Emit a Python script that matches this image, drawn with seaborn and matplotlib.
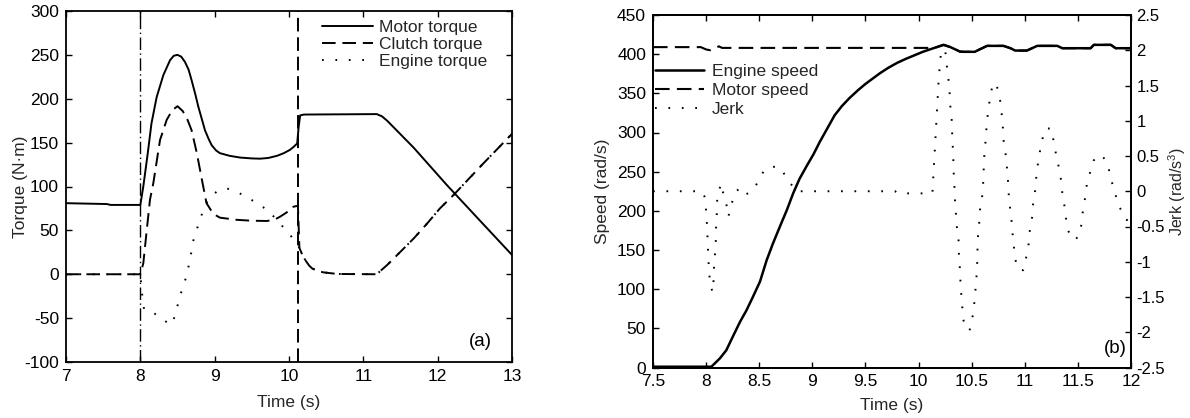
import numpy as np
import pandas as pd
import matplotlib
matplotlib.use("Agg")
import matplotlib.pyplot as plt
from matplotlib.ticker import FuncFormatter, MultipleLocator
import seaborn as sns

# ---------------- data: panel (a) torque ----------------
t_motor = [7.0, 7.55, 7.6, 8.0, 8.04, 8.1, 8.15, 8.22, 8.31, 8.4, 8.45, 8.5, 8.55, 8.6, 8.65,
           8.69, 8.74, 8.78, 8.83, 8.87, 8.92, 8.96, 9.02, 9.07, 9.2, 9.34, 9.5, 9.61, 9.72,
           9.84, 9.93, 10.01, 10.06, 10.11, 10.13, 10.15, 10.2, 11.18, 11.25, 11.32, 11.68,
           12.12, 12.57, 13.0]
motor_torque = [81, 80, 79, 79, 100, 138, 172, 202, 227, 244, 249, 250, 248, 242, 233,
                221, 205, 191, 176, 164, 154, 147, 141, 138, 135, 133, 132, 131.7, 132.5,
                135, 138, 141.6, 145, 149, 168, 181, 182, 182.5, 180, 175, 144,
                102, 61, 22]

t_clutch = [7.0, 8.0, 8.04, 8.086, 8.13, 8.175, 8.265, 8.355, 8.43, 8.5, 8.57, 8.63, 8.69,
            8.76, 8.83, 8.89, 8.98, 9.07, 9.3, 9.5, 9.7, 9.8, 9.88, 9.97, 10.06, 10.12,
            10.14, 10.18, 10.22, 10.27, 10.31, 10.38, 10.46, 10.6, 10.69, 11.18, 11.32,
            11.5, 11.68, 11.86, 12.03, 12.21, 12.6, 13.0]
clutch_torque = [0, 0, 12.5, 50, 85, 104, 153, 176, 187, 191.5, 186, 177, 164,
                 138, 107, 81, 69, 64.5, 62, 61, 60.7, 62, 65.6, 70.5, 77, 78,
                 30, 22, 16, 10, 6.7, 4, 2.2, 0.8, 0.3, 0, 10.5,
                 25.7, 41, 58, 75, 90, 125, 160]

t_engine = [7.0, 8.0, 8.01, 8.02, 8.05, 8.175, 8.29, 8.40, 8.467, 8.5, 8.53, 8.57, 8.61,
            8.64, 8.67, 8.71, 8.75, 8.79, 8.83, 8.875, 8.94, 9.04, 9.16, 9.29, 9.40, 9.51,
            9.62, 9.73, 9.84, 9.92, 10.0, 10.07, 10.12, 10.14, 10.18, 10.22, 10.27, 10.31,
            10.38, 10.46, 10.6, 10.69, 11.18, 11.32, 11.5, 11.68, 11.86, 12.03, 12.21,
            12.6, 13.0]
engine_torque = [0, 0, -10, -20, -40, -44, -50, -58, -48, -36, -26, -15, -5,
                 5.6, 17, 37.6, 48.5, 59, 69, 79, 88, 95, 98, 94, 89.6, 84,
                 78, 72.4, 61, 54, 47, 38, 33, 30, 22, 16, 10, 6.7,
                 4, 2.2, 0.8, 0.3, 0, 10.5, 25.7, 41, 58, 75, 90,
                 125, 160]

phase_times = [8.0, 10.12]

# ---------------- data: panel (b) speed & jerk ----------------
t_espeed = [7.5, 8.05, 8.13, 8.19, 8.25, 8.32, 8.38, 8.44, 8.507, 8.57, 8.63, 8.695, 8.76,
            8.82, 8.88, 8.95, 9.01, 9.07, 9.14, 9.21, 9.28, 9.35, 9.43, 9.5, 9.57, 9.64,
            9.72, 9.8, 9.88, 9.96, 10.04, 10.14, 10.236, 10.3, 10.39, 10.42, 10.53, 10.566,
            10.645, 10.8, 10.865, 10.91, 11.02, 11.117, 11.306, 11.353, 11.62, 11.65, 11.81,
            11.856, 12.0]
engine_speed = [1, 1, 11.7, 22, 39, 58.5, 73, 90, 109.6, 137, 158.6, 180, 201,
                222.5, 241, 258, 272, 288, 305, 322, 334, 344, 354, 362, 369, 376,
                383, 389, 394, 398.5, 403, 407.6, 411.9, 409, 403.3, 403, 403, 405.5,
                410.6, 410.6, 407.6, 404.6, 404.6, 410.6, 410.6, 407.6, 407.6, 411.9, 411.9,
                407.6, 407.6]

t_mspeed = [7.5, 7.95, 8.0, 8.04, 8.08, 8.12, 8.15, 8.2, 10.1, 10.14, 10.236, 10.3, 10.39,
            10.42, 10.53, 10.566, 10.645, 10.8, 10.865, 10.91, 11.02, 11.117, 11.306,
            11.353, 11.62, 11.65, 11.81, 11.856, 12.0]
motor_speed = [409, 409, 406, 405, 407, 410, 408, 408, 408, 407.6, 411.9, 409, 403.3,
               403, 403, 405.5, 410.6, 410.6, 407.6, 404.6, 404.6, 410.6, 410.6,
               407.6, 407.6, 411.9, 411.9, 407.6, 407.6]

t_jerk = [7.5, 7.96, 7.99, 8.004, 8.013, 8.02, 8.03, 8.04, 8.06, 8.07, 8.075, 8.09, 8.094,
          8.10, 8.105, 8.13, 8.14, 8.16, 8.186, 8.21, 8.23, 8.255, 8.28, 8.31, 8.356, 8.43,
          8.475, 8.51, 8.56, 8.65, 8.71, 8.75, 8.80, 8.85, 9.78, 9.8, 10.13, 10.136, 10.14,
          10.145, 10.15, 10.155, 10.16, 10.165, 10.17, 10.175, 10.18, 10.185, 10.19, 10.198,
          10.205, 10.215, 10.25, 10.26, 10.268, 10.275, 10.29, 10.293, 10.296, 10.31,
          10.313, 10.316, 10.32, 10.325, 10.328, 10.33, 10.333, 10.34, 10.343, 10.346,
          10.355, 10.36, 10.375, 10.378, 10.38, 10.387, 10.39, 10.395, 10.40, 10.41,
          10.413, 10.42, 10.45, 10.48, 10.497, 10.52, 10.525, 10.535, 10.538, 10.55,
          10.552, 10.554, 10.556, 10.56, 10.57, 10.573, 10.58, 10.598, 10.60, 10.61,
          10.612, 10.616, 10.62, 10.628, 10.636, 10.64, 10.65, 10.66, 10.676, 10.69,
          10.73, 10.75, 10.77, 10.78, 10.787, 10.796, 10.80, 10.81, 10.827, 10.832,
          10.84, 10.845, 10.85, 10.86, 10.865, 10.88, 10.885, 10.896, 10.90, 10.915,
          10.94, 10.985, 11.004, 11.02, 11.035, 11.04, 11.054, 11.07, 11.075, 11.085,
          11.10, 11.105, 11.117, 11.125, 11.14, 11.15, 11.174, 11.195, 11.25, 11.264,
          11.28, 11.296, 11.315, 11.33, 11.346, 11.353, 11.368, 11.378, 11.39, 11.40,
          11.43, 11.478, 11.525, 11.54, 11.566, 11.589, 11.62, 11.65, 11.707, 11.76,
          11.79, 11.82, 11.856, 11.887, 11.92, 11.96, 12.0]
jerk = [0, 0, -0.09, -0.36, -0.64, -0.92, -1.18, -1.32, -1.43, -1.27, -1.04, -0.78, -0.5,
        -0.35, -0.09, 0.05, 0.11, -0.02, -0.14, -0.36, -0.22, -0.11, 0.0, 0.03, -0.06, 0.0,
        0.10, 0.21, 0.32, 0.35, 0.32, 0.20, 0.10, 0.0, 0.0, -0.03, -0.03, 0.11, 0.24,
        0.36, 0.5, 0.64, 0.78, 0.91, 1.05, 1.19, 1.33, 1.47, 1.60, 1.75,
        1.87, 2.0, 2.0, 1.89, 1.76, 1.63, 1.52, 1.38, 1.24, 1.09,
        0.97, 0.83, 0.68, 0.57, 0.42, 0.28, 0.15, 0.02, -0.11, -0.25,
        -0.36, -0.50, -0.61, -0.76, -0.90, -1.04, -1.155, -1.29, -1.43, -1.57,
        -1.70, -1.82, -1.93, -1.98, -1.84, -1.71, -1.57, -1.44, -1.30, -1.155,
        -1.02, -0.89, -0.745, -0.63, -0.50, -0.36, -0.24, -0.12, 0.01, 0.14,
        0.27, 0.40, 0.54, 0.66, 0.80, 0.93, 1.07, 1.20, 1.335, 1.46,
        1.54, 1.41, 1.27, 1.15, 1.00, 0.87, 0.73, 0.60, 0.47, 0.33,
        0.20, 0.06, -0.07, -0.20, -0.33, -0.46, -0.60, -0.72, -0.86, -0.99,
        -1.11, -1.12, -1.01, -0.89, -0.77, -0.63, -0.50, -0.36, -0.22, -0.10,
        0.03, 0.165, 0.28, 0.42, 0.53, 0.66, 0.78, 0.89, 0.89, 0.77,
        0.64, 0.51, 0.38, 0.25, 0.12, -0.02, -0.14, -0.27, -0.41, -0.52,
        -0.64, -0.69, -0.58, -0.35, -0.11, 0.15, 0.29, 0.44, 0.52, 0.45,
        0.32, 0.13, -0.06, -0.20, -0.32, -0.41, -0.35]

torque_labels = ["Motor torque", "Clutch torque", "Engine torque"]
speed_labels = ["Engine speed", "Motor speed", "Jerk"]

# ---------------- style ----------------
sns.set_theme(style="ticks")
plt.rcParams["font.family"] = ["Liberation Sans", "DejaVu Sans"]
plt.rcParams["axes.unicode_minus"] = False
plt.rcParams["mathtext.fontset"] = "custom"
plt.rcParams["mathtext.rm"] = "Liberation Sans"
FS = 12.5

W, H = 1190, 418
fig = plt.figure(figsize=(W / 100, H / 100), dpi=100)
fig.patch.set_facecolor("white")

ax1 = fig.add_axes([66 / W, 1 - 362 / H, 446 / W, 351 / H])
ax2 = fig.add_axes([653 / W, 1 - 367.5 / H, 478 / W, 352.5 / H])

SOLID = "-"
DASH = (0, (7, 3.5))
DOT = (0, (0.9, 6))
LW = 1.4
K = "black"

def gfmt(v, pos):
    return f"{v:g}"

def style_axes(ax, size=FS, pad=5):
    ax.set_facecolor("white")
    for s in ax.spines.values():
        s.set_color(K)
        s.set_linewidth(1.3)
    ax.tick_params(direction="in", length=4, width=1.0, colors=K, labelsize=size, pad=pad)
    ax.grid(False)

# ---------------- panel (a) ----------------
sns.lineplot(x=t_motor, y=motor_torque, ax=ax1, color=K, linestyle=SOLID, lw=LW,
             label=torque_labels[0], sort=False, estimator=None)
sns.lineplot(x=t_clutch, y=clutch_torque, ax=ax1, color=K, linestyle=DASH, lw=LW,
             label=torque_labels[1], sort=False, estimator=None)
sns.lineplot(x=t_engine, y=engine_torque, ax=ax1, color=K, linestyle=DOT, lw=LW,
             label=torque_labels[2], sort=False, estimator=None)
ax1.axvline(phase_times[0], color=K, lw=1.0, linestyle=(0, (9, 2.5, 1, 2.5)))
ax1.axvline(phase_times[1], color=K, lw=1.4, linestyle=(0, (7, 3)))

ax1.set_xlim(7, 13)
ax1.set_ylim(-100, 300)
ax1.xaxis.set_major_locator(MultipleLocator(1))
ax1.yaxis.set_major_locator(MultipleLocator(50))
ax1.xaxis.set_major_formatter(FuncFormatter(gfmt))
ax1.yaxis.set_major_formatter(FuncFormatter(gfmt))
style_axes(ax1)
ax1.tick_params(top=True, right=True)
ax1.set_xlabel("Time (s)", fontsize=FS)
ax1.set_ylabel("Torque (N·m)", fontsize=FS)
ax1.xaxis.set_label_coords(0.5, -0.094)
ax1.yaxis.set_label_coords(-0.085, 0.5)
h, l = ax1.get_legend_handles_labels()
ax1.legend(h, l, loc="upper left", bbox_to_anchor=(0.575, 0.975), frameon=False,
           fontsize=FS, handlelength=2.9, handletextpad=0.35, labelspacing=0.12,
           borderpad=0, borderaxespad=0)
ax1.text(0.93, 0.057, "(a)", transform=ax1.transAxes, ha="center", va="center",
         fontsize=FS + 1, color=K)

# ---------------- panel (b) ----------------
axj = ax2.twinx()
sns.lineplot(x=t_espeed, y=engine_speed, ax=ax2, color=K, linestyle=SOLID, lw=1.8,
             label=speed_labels[0], sort=False, estimator=None)
sns.lineplot(x=t_mspeed, y=motor_speed, ax=ax2, color=K, linestyle=DASH, lw=1.5,
             label=speed_labels[1], sort=False, estimator=None)
sns.lineplot(x=t_jerk, y=jerk, ax=axj, color=K, linestyle=DOT, lw=LW,
             label=speed_labels[2], sort=False, estimator=None)

ax2.set_xlim(7.5, 12)
ax2.set_ylim(0, 450)
axj.set_ylim(-2.5, 2.5)
ax2.xaxis.set_major_locator(MultipleLocator(0.5))
ax2.yaxis.set_major_locator(MultipleLocator(50))
axj.yaxis.set_major_locator(MultipleLocator(0.5))
for a in (ax2, axj):
    a.xaxis.set_major_formatter(FuncFormatter(gfmt))
    a.yaxis.set_major_formatter(FuncFormatter(gfmt))
style_axes(ax2)
style_axes(axj, size=12, pad=4)
ax2.tick_params(top=True, right=False)
axj.tick_params(left=False, right=True)
ax2.set_xlabel("Time (s)", fontsize=FS)
ax2.set_ylabel("Speed (rad/s)", fontsize=FS)
axj.set_ylabel("Jerk (rad/s$^3$)", fontsize=11.5)
ax2.xaxis.set_label_coords(0.5, -0.087)
ax2.yaxis.set_label_coords(-0.09, 0.5)
axj.yaxis.set_label_coords(1.074, 0.5)

h1, l1 = ax2.get_legend_handles_labels()
h2, l2 = axj.get_legend_handles_labels()
if axj.get_legend() is not None:
    axj.get_legend().remove()
ax2.legend(h1 + h2, l1 + l2, loc="upper left", bbox_to_anchor=(0.004, 0.862),
           frameon=False, fontsize=FS, handlelength=2.8, handletextpad=0.5,
           labelspacing=0.22, borderpad=0, borderaxespad=0)
axj.text(0.968, 0.055, "(b)", transform=axj.transAxes, ha="center", va="center",
         fontsize=FS + 1, color=K)

fig.savefig("out.png", dpi=100, facecolor="white")
